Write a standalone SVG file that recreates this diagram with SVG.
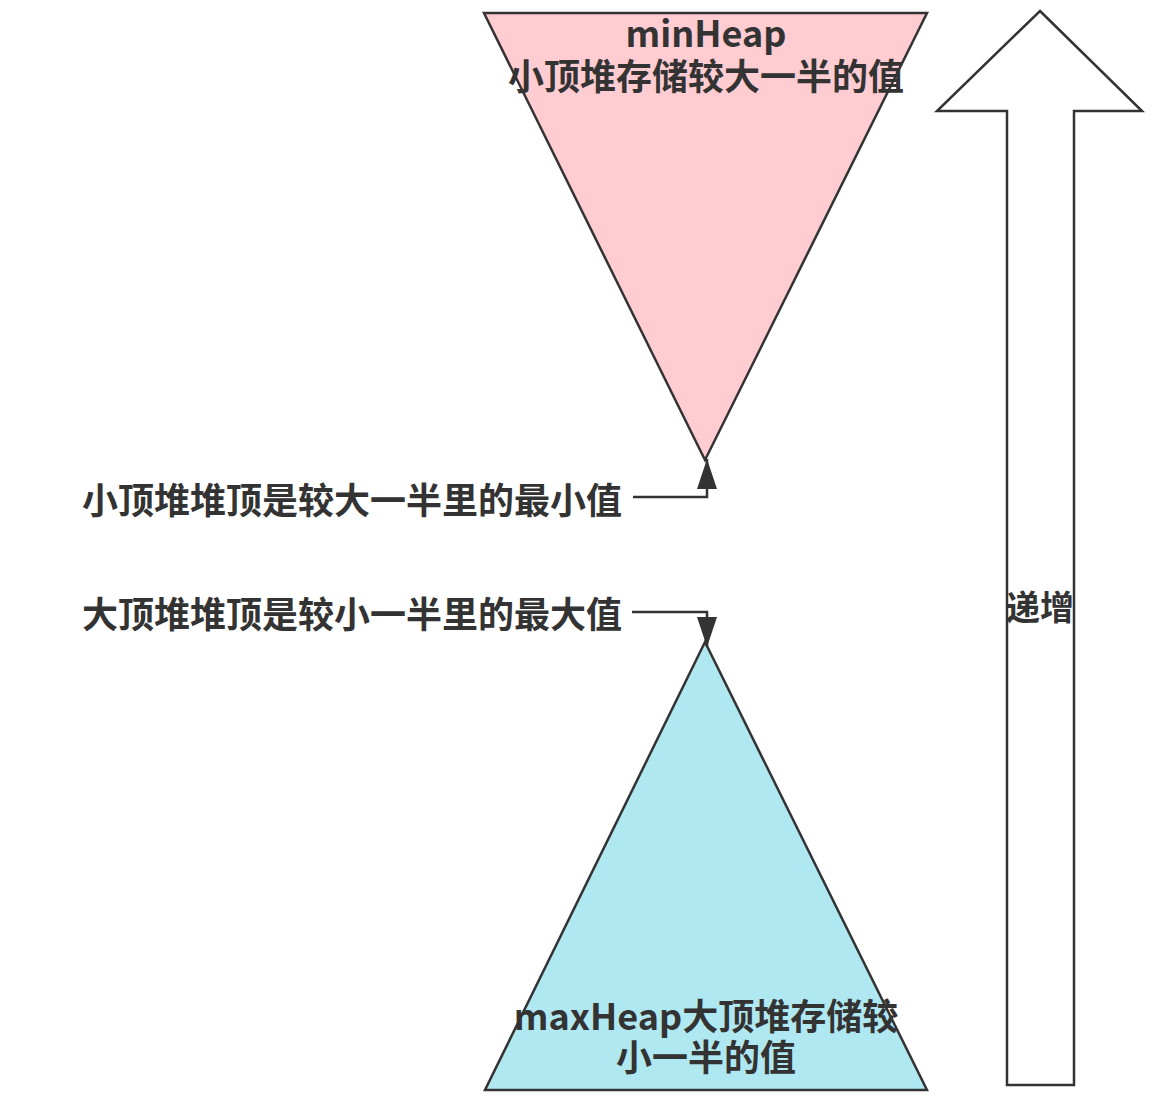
<svg xmlns="http://www.w3.org/2000/svg" width="1160" height="1112" viewBox="0 0 1160 1112">
  <style>
    .shape { stroke: #333333; stroke-width: 2.5; stroke-linejoin: miter; }
    .txt { font-family: "Noto Sans CJK SC", "Microsoft YaHei", "Noto Sans", sans-serif; font-weight: bold; fill: #333333; font-size: 36px; }
    .edge { fill: none; stroke: #333333; stroke-width: 2.5; }
  </style>
  <defs>
    <marker id="arrow" viewBox="0 0 30 20" refX="30" refY="10" markerWidth="30" markerHeight="20" markerUnits="userSpaceOnUse" orient="auto">
      <path d="M0,0 L30,10 L0,20 Z" fill="#333333"/>
    </marker>
  </defs>
  <rect width="1160" height="1112" fill="#ffffff"/>

  <g id="minHeap">
    <polygon class="shape" points="484,13 927,13 705,460" fill="#ffccd2"/>
    <text class="txt" text-anchor="middle"><tspan x="706" y="47">minHeap</tspan><tspan x="706" y="90">小顶堆存储较大一半的值</tspan></text>
  </g>

  <g id="maxHeap">
    <polygon class="shape" points="705,642 927,1090 485,1090" fill="#b0e8f2"/>
    <text class="txt" text-anchor="middle"><tspan x="706" y="1030">maxHeap大顶堆存储较</tspan><tspan x="706" y="1071">小一半的值</tspan></text>
  </g>

  <g id="increase-arrow">
    <polygon class="shape" points="1040,11 1142,111 1074,111 1074,1085 1007,1085 1007,111 937,111" fill="#ffffff"/>
    <text class="txt" x="1040" y="620" text-anchor="middle" style="font-size:34px">递增</text>
  </g>

  <g id="label-min-top">
    <text class="txt" x="622" y="514" text-anchor="end">小顶堆堆顶是较大一半里的最小值</text>
  </g>

  <g id="label-max-top">
    <text class="txt" x="622" y="628" text-anchor="end">大顶堆堆顶是较小一半里的最大值</text>
  </g>

  <g id="connectors">
    <path class="edge" d="M633,497 L707,497 L707,459" marker-end="url(#arrow)"/>
    <path class="edge" d="M632,612 L707,612 L707,647" marker-end="url(#arrow)"/>
  </g>
</svg>
